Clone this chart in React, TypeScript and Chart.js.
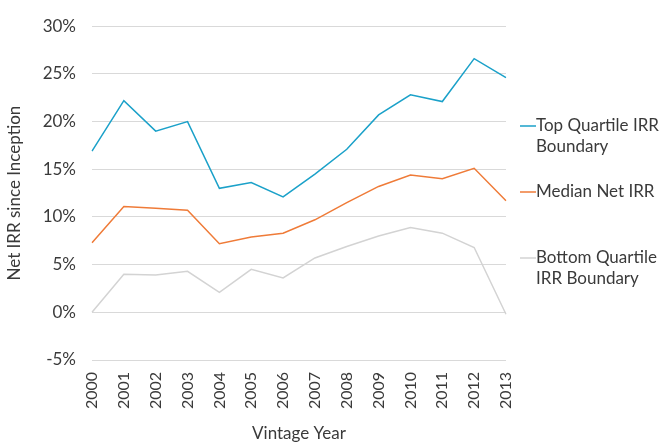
import React, { useEffect, useRef } from "react";
import { Chart, registerables } from "chart.js";

Chart.register(...registerables);

const years = ["2000","2001","2002","2003","2004","2005","2006","2007","2008","2009","2010","2011","2012","2013"];
const topQuartile = [16.9, 22.2, 19.0, 20.0, 13.0, 13.6, 12.1, 14.5, 17.1, 20.7, 22.8, 22.1, 26.6, 24.6];
const median = [7.3, 11.1, 10.9, 10.7, 7.2, 7.9, 8.3, 9.7, 11.5, 13.2, 14.4, 14.0, 15.1, 11.7];
const bottomQuartile = [0.0, 4.0, 3.9, 4.3, 2.1, 4.5, 3.6, 5.7, 6.9, 8.0, 8.9, 8.3, 6.8, -0.2];
const seriesNames = [["Top Quartile IRR", "Boundary"], ["Median Net IRR"], ["Bottom Quartile", "IRR Boundary"]];
const seriesColors = ["#1ba1c9", "#ef7b38", "#d3d3d3"];
const legendY = [126, 192, 258];

const FONT = "Lato, 'DejaVu Sans', sans-serif";
const TEXT = "#3a3a3a";

const legendPlugin = {
  id: "sideLegend",
  afterDraw(chart: any) {
    const ctx = chart.ctx;
    ctx.save();
    ctx.font = `17px ${FONT}`;
    ctx.textBaseline = "middle";
    ctx.textAlign = "left";
    seriesNames.forEach((lines, i) => {
      const y = legendY[i];
      ctx.strokeStyle = seriesColors[i];
      ctx.lineWidth = 1.5;
      ctx.beginPath();
      ctx.moveTo(520, y);
      ctx.lineTo(536, y);
      ctx.stroke();
      ctx.fillStyle = TEXT;
      lines.forEach((t, j) => ctx.fillText(t, 536, y + j * 21));
    });
    ctx.restore();
  },
};

export default function App() {
  const ref = useRef<HTMLCanvasElement | null>(null);
  useEffect(() => {
    document.body.style.margin = "0";
    const mk = (label: string, data: number[], color: string) => ({
      label,
      data,
      borderColor: color,
      backgroundColor: color,
      borderWidth: 1.5,
      pointRadius: 0,
      tension: 0,
      fill: false,
    });
    const chart = new Chart(ref.current as HTMLCanvasElement, {
      type: "line",
      data: {
        labels: years,
        datasets: [
          mk(seriesNames[0].join(" "), topQuartile, seriesColors[0]),
          mk(seriesNames[1].join(" "), median, seriesColors[1]),
          mk(seriesNames[2].join(" "), bottomQuartile, seriesColors[2]),
        ],
      },
      options: {
        animation: false,
        responsive: false,
        layout: { padding: { top: 22, right: 162, bottom: 0, left: 0 } },
        plugins: { legend: { display: false }, tooltip: { enabled: false } },
        scales: {
          x: {
            offset: false,
            grid: { display: false },
            border: { display: false },
            ticks: {
              color: TEXT,
              font: { family: FONT, size: 16 },
              maxRotation: 90,
              minRotation: 90,
              autoSkip: false,
              padding: 4,
            },
            title: {
              display: true,
              text: "Vintage Year",
              color: TEXT,
              font: { family: FONT, size: 17 },
              padding: { top: 12, bottom: 0 },
            },
            afterFit: (s: any) => { s.height = 84; },
          },
          y: {
            min: -5,
            max: 30,
            grid: { color: "#d9d9d9", lineWidth: 1, drawTicks: false },
            border: { display: false },
            ticks: {
              stepSize: 5,
              color: TEXT,
              font: { family: FONT, size: 17 },
              padding: 16,
              callback: (v: any) => `${v}%`,
            },
            title: {
              display: true,
              text: "Net IRR since Inception",
              color: TEXT,
              font: { family: FONT, size: 17 },
              padding: { top: 4, bottom: 4 },
            },
            afterFit: (s: any) => { s.width = 92; },
          },
        },
      },
      plugins: [legendPlugin],
    });
    return () => chart.destroy();
  }, []);
  return <canvas ref={ref} width={668} height={444} style={{ display: "block" }} />;
}
